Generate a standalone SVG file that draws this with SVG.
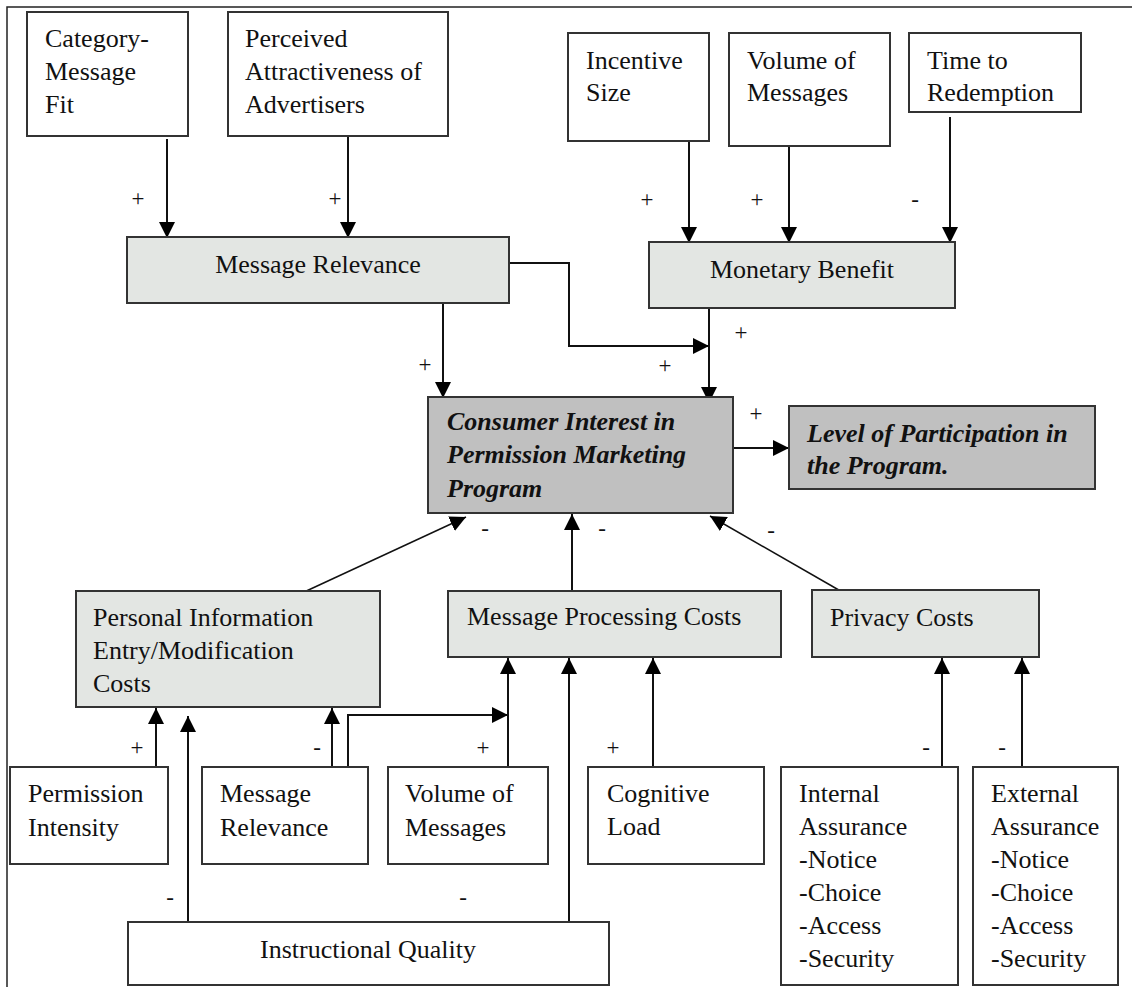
<svg xmlns="http://www.w3.org/2000/svg" width="1132" height="987" viewBox="0 0 1132 987">
<style>
.bg{fill:#ffffff}
.frame{stroke:#222;stroke-width:1.5;fill:none}
.box{fill:#ffffff;stroke:#333;stroke-width:2}
.lt{fill:#e3e6e3;stroke:#333;stroke-width:2}
.dk{fill:#c0c0c0;stroke:#333;stroke-width:2}
.t{font-family:"Liberation Serif","Times New Roman",serif;font-size:26px;fill:#111}
.bi{font-family:"Liberation Serif","Times New Roman",serif;font-size:26px;font-weight:bold;font-style:italic;fill:#111}
.sg{font-family:"Liberation Serif","Times New Roman",serif;font-size:23px;fill:#111;text-anchor:middle}
.c{stroke:#111;stroke-width:2;fill:none;marker-end:url(#ah)}
.cl{stroke:#111;stroke-width:1.5;fill:none;marker-end:url(#ah)}
</style>
<defs>
<marker id="ah" markerUnits="userSpaceOnUse" viewBox="0 0 16 16" refX="16" refY="8" markerWidth="16" markerHeight="16" orient="auto">
<path d="M0,0 L16,8 L0,16 z" fill="#000"/>
</marker>
</defs>
<rect class="bg" x="0" y="0" width="1132" height="987"/>
<path class="frame" d="M7,987 V7 H1132"/>

<g id="connectors">
<path class="c" d="M167,139 V238"/>
<path class="c" d="M348,136 V238"/>
<path class="c" d="M689,139 V243"/>
<path class="c" d="M789,139 V243"/>
<path class="c" d="M950,117 V243"/>
<path class="c" d="M443,303 V398"/>
<path class="c" d="M709,302 V403"/>
<path class="c" d="M509,263 H569 V346 H709"/>
<path class="c" d="M733,448 H789"/>
<path class="cl" d="M302,593 L466,517"/>
<path class="c" d="M572,590 V514"/>
<path class="cl" d="M844,593 L710,516"/>
<path class="c" d="M156,767 V708"/>
<path class="c" d="M188,922 V716"/>
<path class="c" d="M332,770 V708"/>
<path class="c" d="M348,777 V715 H508"/>
<path class="c" d="M508,772 V658"/>
<path class="c" d="M569,922 V658"/>
<path class="c" d="M653,767 V658"/>
<path class="c" d="M942,767 V658"/>
<path class="c" d="M1022,767 V658"/>
</g>

<g id="signs">
<text class="sg" x="138" y="206">+</text>
<text class="sg" x="335" y="206">+</text>
<text class="sg" x="647" y="207">+</text>
<text class="sg" x="757" y="207">+</text>
<text class="sg" x="915" y="207">-</text>
<text class="sg" x="425" y="372">+</text>
<text class="sg" x="665" y="373">+</text>
<text class="sg" x="741" y="340">+</text>
<text class="sg" x="756" y="421">+</text>
<text class="sg" x="485" y="536">-</text>
<text class="sg" x="602" y="536">-</text>
<text class="sg" x="771" y="538">-</text>
<text class="sg" x="137" y="755">+</text>
<text class="sg" x="317" y="755">-</text>
<text class="sg" x="483" y="755">+</text>
<text class="sg" x="613" y="755">+</text>
<text class="sg" x="926" y="755">-</text>
<text class="sg" x="1002" y="755">-</text>
<text class="sg" x="170" y="905">-</text>
<text class="sg" x="463" y="905">-</text>
</g>

<g id="category-message-fit">
<rect class="box" x="27" y="12" width="161" height="124"/>
<text class="t" x="45" y="47">Category-</text>
<text class="t" x="45" y="80">Message</text>
<text class="t" x="45" y="113">Fit</text>
</g>
<g id="perceived-attractiveness">
<rect class="box" x="228" y="12" width="220" height="124"/>
<text class="t" x="245" y="47">Perceived</text>
<text class="t" x="245" y="80">Attractiveness of</text>
<text class="t" x="245" y="113">Advertisers</text>
</g>
<g id="incentive-size">
<rect class="box" x="568" y="33" width="141" height="108"/>
<text class="t" x="586" y="69">Incentive</text>
<text class="t" x="586" y="101">Size</text>
</g>
<g id="volume-top">
<rect class="box" x="729" y="33" width="161" height="113"/>
<text class="t" x="747" y="69">Volume of</text>
<text class="t" x="747" y="101">Messages</text>
</g>
<g id="time-to-redemption">
<rect class="box" x="909" y="33" width="172" height="79"/>
<text class="t" x="927" y="69">Time to</text>
<text class="t" x="927" y="101">Redemption</text>
</g>
<g id="message-relevance">
<rect class="lt" x="127" y="237" width="382" height="66"/>
<text class="t" x="318" y="273" text-anchor="middle">Message Relevance</text>
</g>
<g id="monetary-benefit">
<rect class="lt" x="649" y="242" width="306" height="66"/>
<text class="t" x="802" y="278" text-anchor="middle">Monetary Benefit</text>
</g>
<g id="consumer-interest">
<rect class="dk" x="428" y="397" width="305" height="116"/>
<text class="bi" x="447" y="430">Consumer Interest in</text>
<text class="bi" x="447" y="463">Permission Marketing</text>
<text class="bi" x="447" y="497">Program</text>
</g>
<g id="level-of-participation">
<rect class="dk" x="789" y="406" width="306" height="83"/>
<text class="bi" x="807" y="442">Level of Participation in</text>
<text class="bi" x="807" y="474">the Program.</text>
</g>
<g id="personal-information">
<rect class="lt" x="76" y="591" width="304" height="116"/>
<text class="t" x="93" y="626">Personal Information</text>
<text class="t" x="93" y="659">Entry/Modification</text>
<text class="t" x="93" y="692">Costs</text>
</g>
<g id="message-processing-costs">
<rect class="lt" x="448" y="591" width="333" height="66"/>
<text class="t" x="467" y="625">Message Processing Costs</text>
</g>
<g id="privacy-costs">
<rect class="lt" x="812" y="590" width="227" height="67"/>
<text class="t" x="830" y="626">Privacy Costs</text>
</g>
<g id="permission-intensity">
<rect class="box" x="10" y="767" width="158" height="97"/>
<text class="t" x="28" y="802">Permission</text>
<text class="t" x="28" y="836">Intensity</text>
</g>
<g id="message-relevance-bottom">
<rect class="box" x="202" y="767" width="166" height="97"/>
<text class="t" x="220" y="802">Message</text>
<text class="t" x="220" y="836">Relevance</text>
</g>
<g id="volume-bottom">
<rect class="box" x="388" y="767" width="160" height="97"/>
<text class="t" x="405" y="802">Volume of</text>
<text class="t" x="405" y="836">Messages</text>
</g>
<g id="cognitive-load">
<rect class="box" x="588" y="767" width="176" height="97"/>
<text class="t" x="607" y="802">Cognitive</text>
<text class="t" x="607" y="835">Load</text>
</g>
<g id="internal-assurance">
<rect class="box" x="781" y="767" width="177" height="218"/>
<text class="t" x="799" y="802">Internal</text>
<text class="t" x="799" y="835">Assurance</text>
<text class="t" x="799" y="868">-Notice</text>
<text class="t" x="799" y="901">-Choice</text>
<text class="t" x="799" y="934">-Access</text>
<text class="t" x="799" y="967">-Security</text>
</g>
<g id="external-assurance">
<rect class="box" x="973" y="767" width="145" height="218"/>
<text class="t" x="991" y="802">External</text>
<text class="t" x="991" y="835">Assurance</text>
<text class="t" x="991" y="868">-Notice</text>
<text class="t" x="991" y="901">-Choice</text>
<text class="t" x="991" y="934">-Access</text>
<text class="t" x="991" y="967">-Security</text>
</g>
<g id="instructional-quality">
<rect class="box" x="128" y="922" width="481" height="63"/>
<text class="t" x="368" y="958" text-anchor="middle">Instructional Quality</text>
</g>
</svg>
